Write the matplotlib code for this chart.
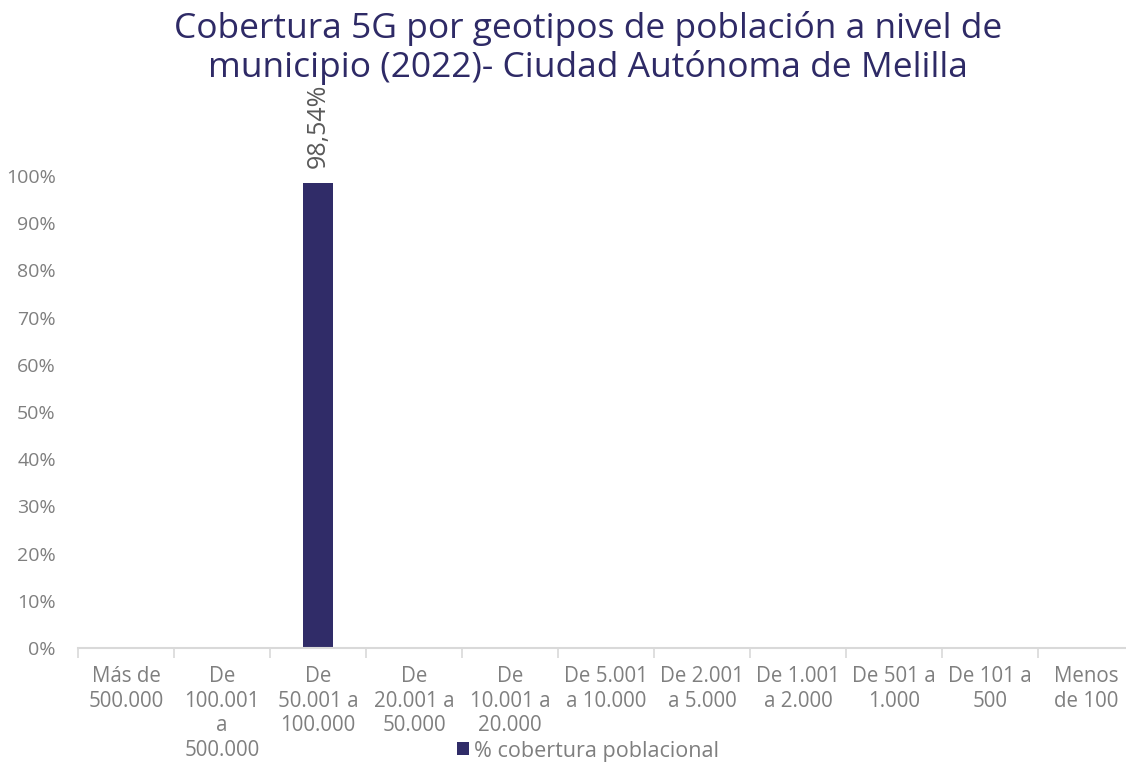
import numpy as np
import matplotlib
matplotlib.use("Agg")
import matplotlib.pyplot as plt

# datos
categorias = ["Más de\n500.000", "De\n100.001\na\n500.000", "De\n50.001 a\n100.000",
              "De\n20.001 a\n50.000", "De\n10.001 a\n20.000", "De 5.001\na 10.000",
              "De 2.001\na 5.000", "De 1.001\na 2.000", "De 501 a\n1.000",
              "De 101 a\n500", "Menos\nde 100"]
cobertura = [np.nan, np.nan, 0.9854, np.nan, np.nan, np.nan, np.nan, np.nan, np.nan, np.nan, np.nan]
etiquetas = ["", "", "98,54%", "", "", "", "", "", "", "", ""]

plt.rcParams["font.family"] = ["Open Sans", "DejaVu Sans"]
gris = "#7F7F7F"
azul = "#302C68"

fig = plt.figure(figsize=(11.26, 7.63), dpi=100)
ax = fig.add_axes([78 / 1126, 115 / 763, 1056 / 1126, 472 / 763])

x = np.arange(len(categorias))
bars = ax.bar(x, cobertura, width=0.32, color=azul, label="% cobertura poblacional")

for xi, v, t in zip(x, cobertura, etiquetas):
    if t:
        ax.annotate(t, (xi, v), xytext=(0, 11), textcoords="offset points",
                    rotation=90, ha="center", va="bottom", color="#595959", fontsize=18)

ax.set_xlim(-0.5, len(categorias) - 0.5)
ax.set_ylim(0, 1)
ax.set_yticks(np.arange(0, 1.01, 0.1))
ax.set_yticklabels([f"{int(round(v * 100))}%" for v in np.arange(0, 1.01, 0.1)])
ax.set_xticks(x)
ax.set_xticklabels(categorias)
ax.set_xticks(np.arange(-0.5, len(categorias), 1), minor=True)
ax.tick_params(axis="x", which="major", length=0, pad=13, labelsize=14.8, labelcolor=gris)
ax.tick_params(axis="x", which="minor", length=7, color="#D9D9D9", width=1.2)
ax.tick_params(axis="y", length=0, pad=16, labelsize=14, labelcolor=gris)
for lbl in ax.get_xticklabels():
    lbl.set_linespacing(1.22)

for s in ["top", "right", "left"]:
    ax.spines[s].set_visible(False)
ax.spines["bottom"].set_color("#D9D9D9")
ax.spines["bottom"].set_linewidth(1.5)

fig.text(0.522, 0.985, "Cobertura 5G por geotipos de población a nivel de\nmunicipio (2022)- Ciudad Autónoma de Melilla",
         ha="center", va="top", fontsize=25.5, color="#2E2A66", linespacing=1.12)

fig.legend(handles=[bars], labels=["% cobertura poblacional"], loc="center",
           bbox_to_anchor=(588 / 1126, 1 - 751 / 763), frameon=False, fontsize=15.5,
           labelcolor=gris, handlelength=0.55, handleheight=0.55, handletextpad=0.2)

fig.savefig("out.png", dpi=100)
